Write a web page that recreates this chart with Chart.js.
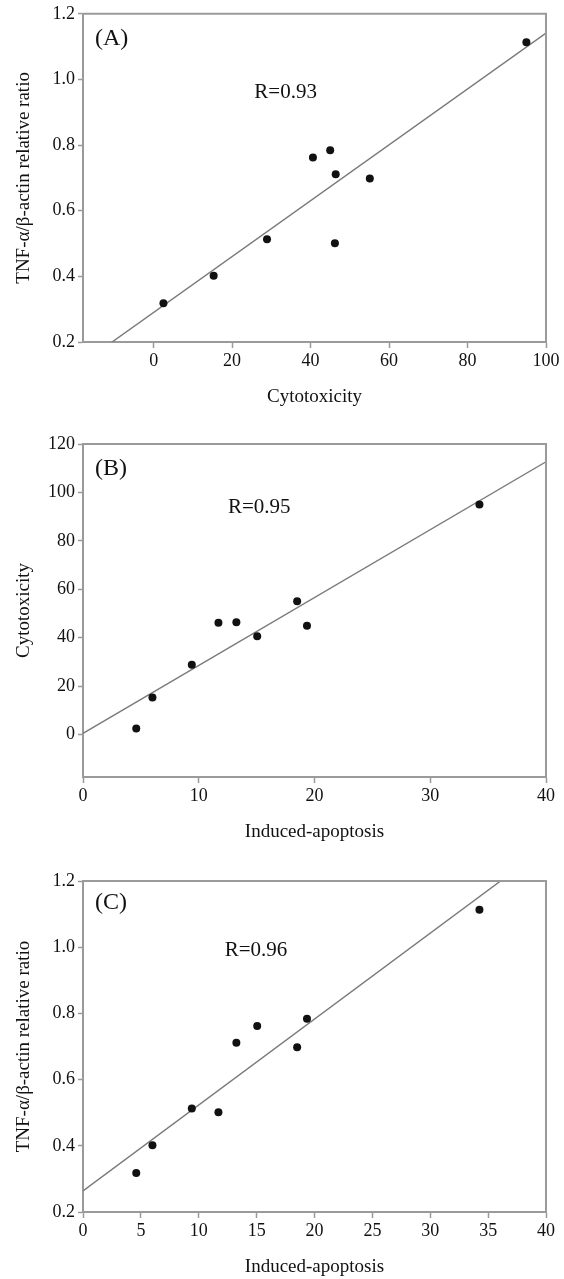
<!DOCTYPE html>
<html>
<head>
<meta charset="utf-8">
<script src="https://cdn.jsdelivr.net/npm/chart.js@4.4.1/dist/chart.umd.min.js"></script>
<style>
  body { margin: 0; background: #fff; width: 564px; height: 1279px; position: relative; overflow: hidden; }
  .panel { position: absolute; left: 0; width: 564px; }
</style>
</head>
<body>
<div class="panel" style="top:0;height:420px"><canvas id="chartA"></canvas></div>
<div class="panel" style="top:420px;height:430px"><canvas id="chartB"></canvas></div>
<div class="panel" style="top:850px;height:429px"><canvas id="chartC"></canvas></div>
<script>
// values, one entry per sample
const cytotoxicity = [2.5, 15.3, 28.9, 40.6, 45.0, 46.4, 46.2, 55.1, 95.0]
const apoptosis    = [4.6, 6.0, 9.4, 15.05, 19.35, 13.25, 11.7, 18.5, 34.25]
const tnfRatio     = [0.318, 0.402, 0.513, 0.762, 0.784, 0.711, 0.501, 0.698, 1.113]

const rLabels = ['R=0.93', 'R=0.95', 'R=0.96']
const panelLabels = ['(A)', '(B)', '(C)']

const ratioTicks = [0.2, 0.4, 0.6, 0.8, 1.0, 1.2]
const cytoTicksA = [0, 20, 40, 60, 80, 100]
const cytoTicksB = [0, 20, 40, 60, 80, 100, 120]
const apopTicksB = [0, 10, 20, 30, 40]
const apopTicksC = [0, 5, 10, 15, 20, 25, 30, 35, 40]

const SERIF = '"Liberation Serif", "Times New Roman", serif'
const AXIS_GREY = '#9a9a9a'

// least squares line, returned as the two ends across the x range
function fitLine(xs, ys, xmin, xmax) {
  const n = xs.length
  const mx = xs.reduce((a, b) => a + b, 0) / n
  const my = ys.reduce((a, b) => a + b, 0) / n
  let sxy = 0, sxx = 0
  xs.forEach((x, i) => { sxy += (x - mx) * (ys[i] - my); sxx += (x - mx) * (x - mx) })
  const b = sxy / sxx
  const a = my - b * mx
  return [{ x: xmin, y: a + b * xmin }, { x: xmax, y: a + b * xmax }]
}

// frame on top/right plus the panel letter and R value
const panelText = {
  id: 'panelText',
  afterDraw(chart, args, opts) {
    const { ctx, chartArea: ca } = chart
    ctx.save()
    ctx.strokeStyle = AXIS_GREY
    ctx.lineWidth = 2
    ctx.beginPath()
    ctx.moveTo(ca.left, ca.top)
    ctx.lineTo(ca.right, ca.top)
    ctx.lineTo(ca.right, ca.bottom)
    ctx.stroke()
    ctx.fillStyle = '#111'
    ctx.textBaseline = 'middle'
    ctx.textAlign = 'left'
    ctx.font = '24px ' + SERIF
    ctx.fillText(opts.label, ca.left + 12, ca.top + opts.ly)
    ctx.font = '21px ' + SERIF
    ctx.fillText(opts.r, ca.left + opts.rx * (ca.right - ca.left), ca.top + opts.ry * (ca.bottom - ca.top))
    ctx.restore()
  }
}

function axis(min, max, ticks, title, isY, decimals) {
  return {
    type: 'linear',
    min: min,
    max: max,
    afterBuildTicks: s => { s.ticks = ticks.map(v => ({ value: v })) },
    afterFit: s => { if (isY) s.width = 83; else s.height = 66 },
    grid: { drawOnChartArea: false, drawTicks: true, tickLength: isY ? 5 : 6, color: AXIS_GREY, tickWidth: 1.5 },
    border: { display: true, color: AXIS_GREY, width: 2 },
    ticks: {
      color: '#111',
      padding: isY ? 3 : 2,
      font: { family: SERIF, size: 18 },
      maxRotation: 0,
      autoSkip: false,
      callback: v => v.toFixed(decimals)
    },
    title: {
      display: true,
      text: title,
      color: '#111',
      font: { family: SERIF, size: 19 },
      padding: isY ? { top: 13, bottom: 0 } : { top: 0, bottom: 0 }
    }
  }
}

function makeChart(id, xs, ys, xAxis, yAxis, pad, text) {
  new Chart(document.getElementById(id), {
    type: 'scatter',
    data: {
      datasets: [{
        data: xs.map((x, i) => ({ x: x, y: ys[i] })),
        pointRadius: 4,
        pointBackgroundColor: '#111',
        pointBorderColor: '#111',
        pointBorderWidth: 0
      }, {
        type: 'line',
        data: fitLine(xs, ys, xAxis.min, xAxis.max),
        borderColor: '#7a7a7a',
        borderWidth: 1.4,
        pointRadius: 0,
        fill: false
      }]
    },
    options: {
      responsive: true,
      maintainAspectRatio: false,
      animation: false,
      layout: { padding: pad },
      plugins: { legend: { display: false }, tooltip: { enabled: false }, panelText: text },
      scales: { x: xAxis, y: yAxis }
    },
    plugins: [panelText]
  })
}

makeChart('chartA', cytotoxicity, tnfRatio,
  axis(-18, 100, cytoTicksA, 'Cytotoxicity', false, 0),
  axis(0.2, 1.2, ratioTicks, 'TNF-α/β-actin relative ratio', true, 1),
  { top: 11, right: 18, bottom: 12, left: 0 },
  { label: panelLabels[0], r: rLabels[0], ly: 25, rx: 0.37, ry: 0.24 })

makeChart('chartB', apoptosis, cytotoxicity,
  axis(0, 40, apopTicksB, 'Induced-apoptosis', false, 0),
  axis(-17.5, 120, cytoTicksB, 'Cytotoxicity', true, 0),
  { top: 24, right: 18, bottom: 7, left: 0 },
  { label: panelLabels[1], r: rLabels[1], ly: 25, rx: 0.313, ry: 0.19 })

makeChart('chartC', apoptosis, tnfRatio,
  axis(0, 40, apopTicksC, 'Induced-apoptosis', false, 0),
  axis(0.2, 1.2, ratioTicks, 'TNF-α/β-actin relative ratio', true, 1),
  { top: 31, right: 18, bottom: 1, left: 0 },
  { label: panelLabels[2], r: rLabels[2], ly: 22, rx: 0.306, ry: 0.21 })
</script>
</body>
</html>
